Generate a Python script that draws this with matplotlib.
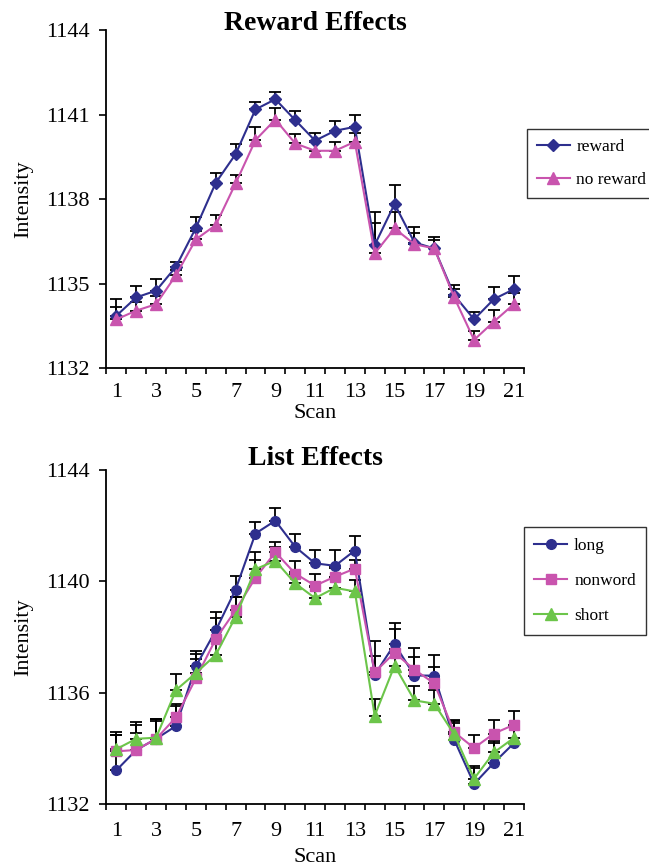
import matplotlib
matplotlib.use('Agg')
import matplotlib.pyplot as plt
import numpy as np

scans = np.arange(1, 22)

# top panel: reward effects
reward = [1133.86, 1134.51, 1134.75, 1135.60, 1136.98, 1138.58, 1139.60, 1141.19, 1141.55, 1140.81, 1140.08,
          1140.43, 1140.57, 1136.37, 1137.83, 1136.46, 1136.25, 1134.59, 1133.73, 1134.45, 1134.80]
reward_err = [0.58, 0.40, 0.40, 0.18, 0.39, 0.36, 0.36, 0.27, 0.27, 0.33, 0.28,
              0.35, 0.42, 1.18, 0.67, 0.56, 0.41, 0.36, 0.27, 0.42, 0.47]
no_reward = [1133.73, 1134.04, 1134.27, 1135.30, 1136.57, 1137.08, 1138.56, 1140.10, 1140.83, 1139.98, 1139.72,
             1139.72, 1140.04, 1136.07, 1136.96, 1136.40, 1136.25, 1134.51, 1133.00, 1133.65, 1134.27]
no_reward_err = [0.45, 0.30, 0.30, 0.20, 0.30, 0.35, 0.30, 0.45, 0.40, 0.33, 0.30,
                 0.30, 0.30, 1.07, 0.60, 0.40, 0.30, 0.30, 0.33, 0.43, 0.40]

# bottom panel: list effects
long_ = [1133.21, 1133.94, 1134.34, 1134.80, 1136.94, 1138.23, 1139.70, 1141.71, 1142.17, 1141.23, 1140.64,
         1140.55, 1141.10, 1136.64, 1137.74, 1136.61, 1136.61, 1134.31, 1132.72, 1133.48, 1134.18]
long_err = [1.37, 0.60, 0.70, 0.80, 0.55, 0.67, 0.48, 0.43, 0.44, 0.45, 0.49,
            0.58, 0.51, 1.22, 0.76, 0.66, 0.74, 0.70, 0.64, 0.70, 0.60]
nonword = [1133.89, 1133.94, 1134.34, 1135.11, 1136.51, 1137.92, 1138.96, 1140.12, 1141.04, 1140.27, 1139.84,
           1140.16, 1140.45, 1136.73, 1137.43, 1136.82, 1136.33, 1134.58, 1134.01, 1134.53, 1134.84]
nonword_err = [0.60, 0.90, 0.70, 0.40, 0.87, 0.77, 0.47, 0.63, 0.36, 0.46, 0.41,
               0.30, 0.30, 0.60, 0.86, 0.77, 0.57, 0.40, 0.46, 0.50, 0.50]
short = [1133.97, 1134.34, 1134.38, 1136.09, 1136.70, 1137.35, 1138.72, 1140.43, 1140.73, 1139.92, 1139.39,
         1139.76, 1139.63, 1135.17, 1136.97, 1135.72, 1135.60, 1134.50, 1132.91, 1133.85, 1134.37]
short_err = [0.50, 0.60, 0.60, 0.57, 0.50, 0.50, 0.70, 0.63, 0.50, 0.40, 0.40,
             0.40, 0.40, 0.60, 0.60, 0.50, 0.50, 0.40, 0.40, 0.40, 0.40]

BLUE = '#2e2f8e'
PINK = '#c954ae'
GREEN = '#6cc54a'

plt.rcParams['font.family'] = ['Liberation Serif', 'DejaVu Serif']

fig = plt.figure(figsize=(6.49, 8.66), dpi=100)
ax1 = fig.add_axes([0.164, 0.575, 0.643, 0.390])
ax2 = fig.add_axes([0.164, 0.0716, 0.643, 0.386])


def series(ax, y, err, color, marker, ms, label):
    ax.errorbar(scans, y, yerr=[np.zeros(len(err)), err], fmt='none', ecolor='black',
                elinewidth=1.3, capsize=4, capthick=1.3, zorder=2)
    ax.plot(scans, y, color=color, marker=marker, markersize=ms, linewidth=1.5,
            label=label, zorder=3)


def style(ax, yticks, title, tpad, xpad, lpad):
    ax.set_xlim(0.5, 21.5)
    ax.set_ylim(yticks[0], yticks[-1])
    ax.set_yticks(yticks)
    ax.set_xticks(np.arange(1, 22, 2))
    ax.set_xticks(np.arange(0.5, 22, 1), minor=True)
    ax.tick_params(axis='x', which='major', length=0, labelsize=16, pad=xpad)
    ax.tick_params(axis='x', which='minor', length=4, width=1.2, direction='out')
    ax.tick_params(axis='y', length=5, width=1.2, direction='out', labelsize=16, pad=7)
    for s in ['top', 'right']:
        ax.spines[s].set_visible(False)
    for s in ['left', 'bottom']:
        ax.spines[s].set_linewidth(1.3)
    ax.set_xlabel('Scan', fontsize=16, labelpad=lpad)
    ax.set_ylabel('Intensity', fontsize=16, labelpad=9)
    # fixed y so the title is not pushed above the top tick label
    ax.set_title(title, fontsize=20, fontweight='bold', pad=tpad, y=1.0)


series(ax1, reward, reward_err, BLUE, 'D', 6, 'reward')
series(ax1, no_reward, no_reward_err, PINK, '^', 8, 'no reward')
style(ax1, [1132, 1135, 1138, 1141, 1144], 'Reward Effects', 0.5, 11, 1.5)
ax1.legend(loc='upper left', bbox_to_anchor=(0.812, 0.851), bbox_transform=fig.transFigure,
           fontsize=12.5, frameon=True, fancybox=False, edgecolor='black', borderpad=0.55,
           labelspacing=1.0, handlelength=1.9, handletextpad=0.4, borderaxespad=0)

series(ax2, long_, long_err, BLUE, 'o', 7, 'long')
series(ax2, nonword, nonword_err, PINK, 's', 7, 'nonword')
series(ax2, short, short_err, GREEN, '^', 8, 'short')
style(ax2, [1132, 1136, 1140, 1144], 'List Effects', 3.5, 13, 5)
ax2.legend(loc='upper left', bbox_to_anchor=(0.807, 0.391), bbox_transform=fig.transFigure,
           fontsize=12.5, frameon=True, fancybox=False, edgecolor='black', borderpad=0.6,
           labelspacing=1.1, handlelength=1.9, handletextpad=0.4, borderaxespad=0)

fig.savefig('out.png', dpi=100)
